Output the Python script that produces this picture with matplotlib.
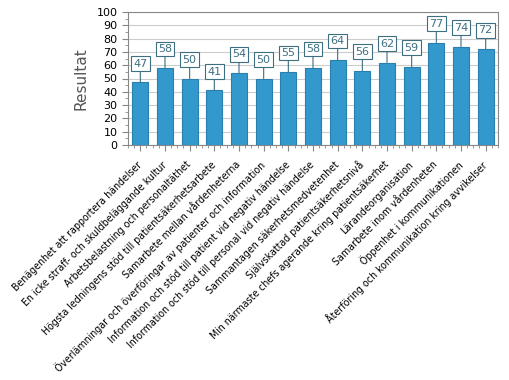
import matplotlib
matplotlib.use("Agg")
import matplotlib.pyplot as plt
from matplotlib.ticker import MultipleLocator
import matplotlib.transforms as mtrans
import numpy as np

categories = [
    "Benägenhet att rapportera händelser",
    "En icke straff- och skuldbeläggande kultur",
    "Arbetsbelastning och personaltäthet",
    "Högsta ledningens stöd till patientsäkerhetsarbete",
    "Samarbete mellan vårdenheterna",
    "Överlämningar och överföringar av patienter och information",
    "Information och stöd till patient vid negativ händelse",
    "Information och stöd till personal vid negativ händelse",
    "Sammantagen säkerhetsmedvetenhet",
    "Självskattad patientsäkerhetsnivå",
    "Min närmaste chefs agerande kring patientsäkerhet",
    "Lärandeorganisation",
    "Samarbete inom vårdenheten",
    "Öppenhet i kommunikationen",
    "Återföring och kommunikation kring avvikelser",
]
values = [47, 58, 50, 41, 54, 50, 55, 58, 64, 56, 62, 59, 77, 74, 72]

bar_col = "#3399cc"
edge_col = "#2a7fae"
lbl_col = "#3d6f80"

fig = plt.figure(figsize=(5.1, 3.8), dpi=100)
ax = fig.add_axes([128 / 510, 1 - 145 / 380, 370 / 510, 133 / 380])

x = np.arange(len(values))
ax.bar(x, values, width=0.64, color=bar_col, edgecolor=edge_col, linewidth=0.8, zorder=3)

# value boxes with a leader line
for xi, v in zip(x, values):
    ax.annotate(str(v), xy=(xi, v), xytext=(0, 10), textcoords="offset points",
                ha="center", va="bottom", fontsize=8, color=lbl_col,
                bbox=dict(boxstyle="square,pad=0.2", fc="white", ec=lbl_col, lw=0.8),
                arrowprops=dict(arrowstyle="-", color=lbl_col, lw=0.8,
                                shrinkA=0, shrinkB=0),
                zorder=4)

ax.set_xlim(-0.5, len(values) - 0.5)
ax.set_ylim(0, 100)
ax.yaxis.set_major_locator(MultipleLocator(10))
ax.yaxis.set_minor_locator(MultipleLocator(5))
ax.xaxis.set_minor_locator(MultipleLocator(0.25))
ax.set_xticks(x)
ax.set_xticklabels(categories, rotation=45, ha="right", va="center",
                   rotation_mode="anchor", fontsize=6.85)
shift = mtrans.ScaledTranslation(-4 / 100, 0, fig.dpi_scale_trans)
for t in ax.get_xticklabels():
    t.set_transform(t.get_transform() + shift)
ax.tick_params(axis="y", labelsize=8, length=4, color="#888888")
ax.tick_params(axis="x", length=4, color="#888888", pad=9)
ax.tick_params(which="minor", length=2, color="#888888")
ax.grid(axis="y", color="#cccccc", lw=0.8, zorder=0)
for s in ax.spines.values():
    s.set_color("#888888")

ax.set_ylabel("Resultat", fontsize=11, color="#555555", labelpad=6)

fig.savefig("out.png", dpi=100)
